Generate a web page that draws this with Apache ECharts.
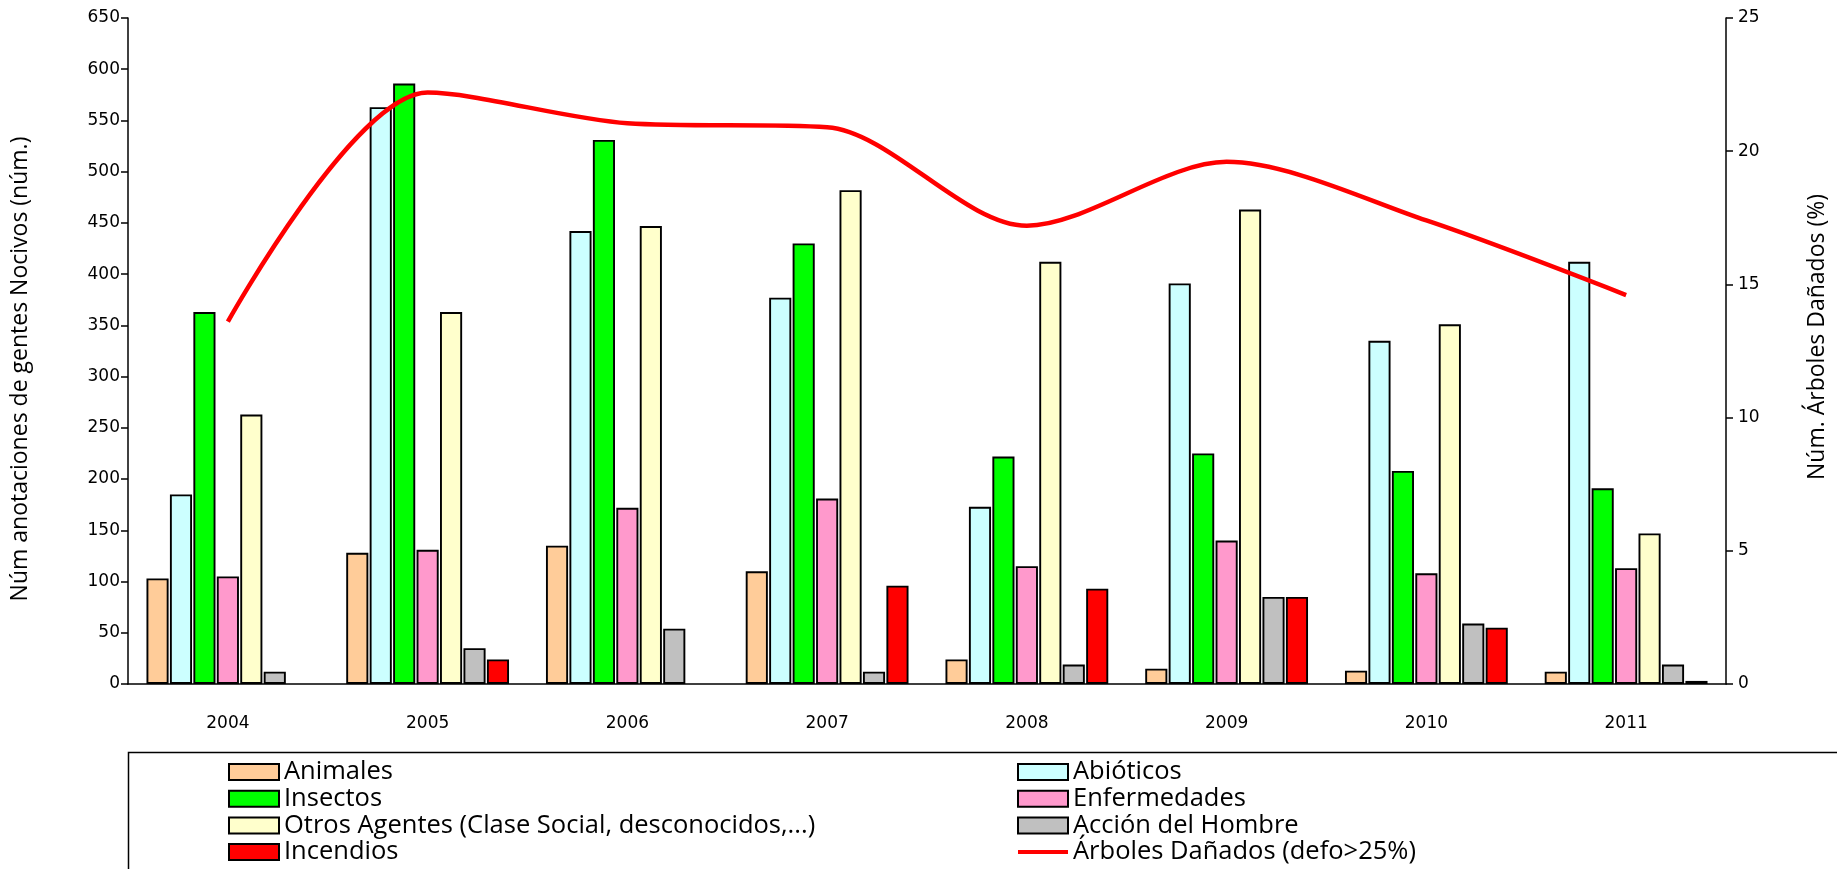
<!DOCTYPE html>
<html>
<head>
<meta charset="UTF-8">
<title>Agentes Nocivos</title>
<script type="text/javascript" src="https://cdn.jsdelivr.net/npm/echarts@6/dist/echarts.min.js"></script>
<style>
  html, body { margin: 0; padding: 0; background: #fff; }
</style>
</head>
<body>
<div id="main" style="width:1837px;height:869px"></div>
<script type="text/javascript">
// años
var years = ['2004', '2005', '2006', '2007', '2008', '2009', '2010', '2011'];

// anotaciones por tipo de agente (núm.)
var animales     = [103, 128, 135, 110, 24, 15, 13, 12];
var abioticos    = [185, 563, 442, 377, 173, 391, 335, 412];
var insectos     = [363, 586, 531, 430, 222, 225, 208, 191];
var enfermedades = [105, 131, 172, 181, 115, 140, 108, 113];
var otros        = [263, 363, 447, 482, 412, 463, 351, 147];
var accion       = [12, 35, 54, 12, 19, 85, 59, 19];
var incendios    = [0, 24, 0, 96, 93, 85, 55, 3];

// % árboles dañados
var arboles = [13.6, 22.2, 21.05, 20.9, 17.2, 19.6, 17.4, 14.6];

var chart = echarts.init(document.getElementById('main'));

var tickFont = { fontFamily: 'DejaVu Sans', fontSize: 17, color: '#000' };
var nameFont = { fontFamily: 'Open Sans', fontSize: 23, color: '#000' };
var legendFont = { fontFamily: 'Open Sans', fontSize: 25.5, color: '#000', lineHeight: 26 };

function barSerie(name, color, values) {
    return {
        name: name,
        type: 'bar',
        yAxisIndex: 0,
        barGap: '6%',
        barCategoryGap: '18.5%',
        itemStyle: { color: color, borderColor: '#000', borderWidth: 1.9 },
        // sin barra cuando no hay anotaciones
        data: values.map(function (v) { return v === 0 ? '-' : v; })
    };
}

var legendBase = {
    orient: 'vertical',
    top: 759,
    padding: 0,
    itemWidth: 50, itemHeight: 16, itemGap: 0.7,
    icon: 'rect',
    textStyle: legendFont
};

var option = {
    animation: false,
    backgroundColor: '#fff',
    grid: { left: 128, right: 107, top: 18, bottom: 185 },
    legend: [
        Object.assign({}, legendBase, {
            left: 228,
            data: ['Animales', 'Insectos', 'Otros Agentes (Clase Social, desconocidos,...)', 'Incendios']
        }),
        Object.assign({}, legendBase, {
            left: 1017,
            data: ['Abióticos', 'Enfermedades', 'Acción del Hombre', {
                name: 'Árboles Dañados (defo>25%)',
                icon: 'path://M0,0 M50,16 M0,6 L50,6 L50,10 L0,10 Z'
            }]
        })
    ],
    graphic: [{
        type: 'rect',
        left: 126, top: 750,
        shape: { width: 1730, height: 140 },
        style: { fill: 'none', stroke: '#000', lineWidth: 1.5 }
    }],
    xAxis: {
        type: 'category',
        data: years,
        axisLine: { lineStyle: { color: '#000', width: 1.5 } },
        axisTick: { length: 7, lineStyle: { color: '#000', width: 1.5 } },
        axisLabel: Object.assign({ margin: 31 }, tickFont)
    },
    yAxis: [
        {
            type: 'value',
            min: 0, max: 650, interval: 50,
            name: 'Núm anotaciones de gentes Nocivos (núm.)',
            nameLocation: 'middle',
            nameGap: 96,
            nameRotate: 90,
            nameTextStyle: Object.assign({ padding: [0, 36, 0, 0] }, nameFont),
            axisLine: { show: true, lineStyle: { color: '#000', width: 1.5 } },
            axisTick: { show: true, length: 7, lineStyle: { color: '#000', width: 1.5 } },
            axisLabel: Object.assign({ margin: 8 }, tickFont),
            splitLine: { show: false }
        },
        {
            type: 'value',
            min: 0, max: 25, interval: 5,
            position: 'right',
            name: 'Núm. Árboles Dañados (%)',
            nameLocation: 'middle',
            nameGap: 80,
            nameRotate: 90,
            nameTextStyle: Object.assign({ padding: [0, 0, 0, 28] }, nameFont),
            axisLine: { show: true, lineStyle: { color: '#000', width: 1.5 } },
            axisTick: { show: true, length: 7, lineStyle: { color: '#000', width: 1.5 } },
            axisLabel: Object.assign({ margin: 12 }, tickFont),
            splitLine: { show: false }
        }
    ],
    series: [
        barSerie('Animales', '#FFCC99', animales),
        barSerie('Abióticos', '#CCFFFF', abioticos),
        barSerie('Insectos', '#00FF00', insectos),
        barSerie('Enfermedades', '#FF99CC', enfermedades),
        barSerie('Otros Agentes (Clase Social, desconocidos,...)', '#FFFFCC', otros),
        barSerie('Acción del Hombre', '#C0C0C0', accion),
        barSerie('Incendios', '#FF0000', incendios),
        {
            name: 'Árboles Dañados (defo>25%)',
            type: 'line',
            yAxisIndex: 1,
            smooth: 0.3,
            symbol: 'none',
            lineStyle: { color: '#FF0000', width: 4.5 },
            itemStyle: { color: '#FF0000' },
            z: 5,
            data: arboles
        }
    ]
};

chart.setOption(option);
</script>
</body>
</html>
